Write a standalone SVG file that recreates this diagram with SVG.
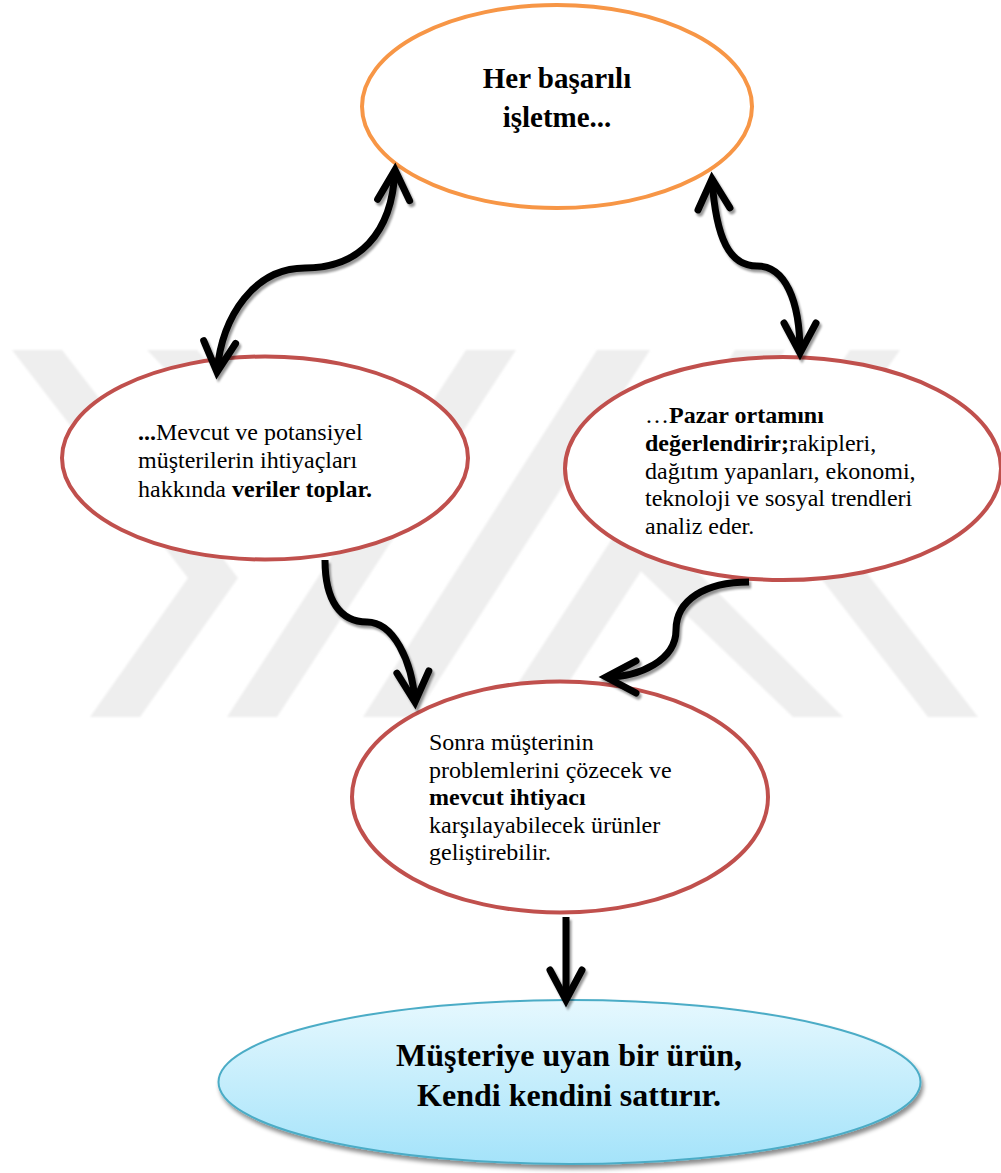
<svg xmlns="http://www.w3.org/2000/svg" width="1001" height="1173" viewBox="0 0 1001 1173">
  <defs>
    <style>
      text { font-family: "Liberation Serif", "Times New Roman", serif; fill: #000; }
      .body { font-size: 24px; }
      .b { font-weight: bold; }
      .title { font-size: 29px; font-weight: bold; }
      .final { font-size: 32px; font-weight: bold; }
      .red { fill: #fff; stroke: #C0504D; stroke-width: 4; }
      .orange { fill: #fff; stroke: #F79646; stroke-width: 4; }
      .conn { fill: none; stroke: #000; stroke-width: 7; }
      .wm { fill: #eeeeee; }
    </style>
    <marker id="head" markerUnits="userSpaceOnUse" viewBox="-40 -25 52 50" refX="0" refY="0"
            markerWidth="52" markerHeight="50" orient="auto-start-reverse" overflow="visible">
      <path d="M-30,-16 L0,0 L-30,16" fill="none" stroke="#000" stroke-width="7"
            stroke-linecap="round" stroke-linejoin="miter"/>
    </marker>
    <filter id="arrowShadow" x="-20%" y="-20%" width="140%" height="140%">
      <feDropShadow dx="2" dy="3" stdDeviation="1" flood-color="#000" flood-opacity="0.4"/>
    </filter>
    <filter id="ovalShadow" x="-10%" y="-20%" width="120%" height="150%">
      <feDropShadow dx="2" dy="4" stdDeviation="2" flood-color="#000" flood-opacity="0.45"/>
    </filter>
    <filter id="soft" x="-5%" y="-5%" width="110%" height="110%">
      <feGaussianBlur stdDeviation="1.2"/>
    </filter>
    <linearGradient id="aqua" x1="0" y1="0" x2="0" y2="1">
      <stop offset="0" stop-color="#e6f8fe"/>
      <stop offset="1" stop-color="#a4e3fa"/>
    </linearGradient>
  </defs>

  <rect width="1001" height="1173" fill="#fff"/>

  <!-- background emblem: light grey stripes -->
  <g id="emblem" class="wm" filter="url(#soft)">
    <polygon points="12,350 62,350 238,578 140,717 90,717 188,578"/>
    <polygon points="850,350 900,350 802,489 978,717 928,717 752,489"/>
    <polygon points="227,717 277,717 516,350 466,350"/>
    <polygon points="363,717 415,717 650,350 597,350"/>
    <polygon points="735,350 785,350 546,717 496,717"/>
    <polygon points="147,350 197,350 375,534 350,562"/>
    <polygon points="793,717 843,717 650,525 625,556"/>
  </g>

  <!-- nodes -->
  <g id="node-start">
    <ellipse class="orange" cx="557" cy="106.5" rx="195" ry="101.5"/>
    <text class="title" x="557" y="88" text-anchor="middle">Her başarılı</text>
    <text class="title" x="557" y="127" text-anchor="middle">işletme...</text>
  </g>

  <g id="node-data">
    <ellipse class="red" cx="265" cy="458" rx="203" ry="101.5"/>
    <text class="body" x="138" y="440"><tspan class="b">...</tspan>Mevcut ve potansiyel</text>
    <text class="body" x="138" y="468">müşterilerin ihtiyaçları</text>
    <text class="body" x="138" y="497">hakkında <tspan class="b">veriler toplar.</tspan></text>
  </g>

  <g id="node-market">
    <ellipse class="red" cx="783" cy="468.5" rx="218" ry="111.5"/>
    <text class="body" x="645" y="423">…<tspan class="b">Pazar ortamını</tspan></text>
    <text class="body" x="645" y="451"><tspan class="b">değerlendirir;</tspan>rakipleri,</text>
    <text class="body" x="645" y="479">dağıtım yapanları, ekonomi,</text>
    <text class="body" x="645" y="506">teknoloji ve sosyal trendleri</text>
    <text class="body" x="645" y="534">analiz eder.</text>
  </g>

  <g id="node-product">
    <ellipse class="red" cx="560" cy="797" rx="208" ry="115.5"/>
    <text class="body" x="429" y="750">Sonra müşterinin</text>
    <text class="body" x="429" y="778">problemlerini çözecek ve</text>
    <text class="body" x="429" y="805"><tspan class="b">mevcut ihtiyacı</tspan></text>
    <text class="body" x="429" y="833">karşılayabilecek ürünler</text>
    <text class="body" x="429" y="860">geliştirebilir.</text>
  </g>

  <g id="node-result">
    <ellipse cx="569.5" cy="1082" rx="351" ry="82" fill="url(#aqua)" stroke="#4BACC6" stroke-width="2" filter="url(#ovalShadow)"/>
    <text class="final" x="569" y="1066" text-anchor="middle">Müşteriye uyan bir ürün,</text>
    <text class="final" x="569" y="1106" text-anchor="middle">Kendi kendini sattırır.</text>
  </g>

  <!-- connectors -->
  <g id="connectors" filter="url(#arrowShadow)">
    <path class="conn" d="M395,170 C392,235 358,268 305,268 C255,268 222,315 217,372"
          marker-start="url(#head)" marker-end="url(#head)"/>
    <path class="conn" d="M712,179 C716,240 730,266 757,266 C785,266 800,300 800,353"
          marker-start="url(#head)" marker-end="url(#head)"/>
    <path class="conn" d="M325,560 C325,600 340,622 367,622 C393,622 412,660 415,702"
          marker-end="url(#head)"/>
    <path class="conn" d="M749,582 C705,582 676,600 676,630 C676,660 640,677 606,677"
          marker-end="url(#head)"/>
    <path class="conn" d="M566,917 L566,1000" stroke-width="8" marker-end="url(#head)"/>
  </g>
</svg>
